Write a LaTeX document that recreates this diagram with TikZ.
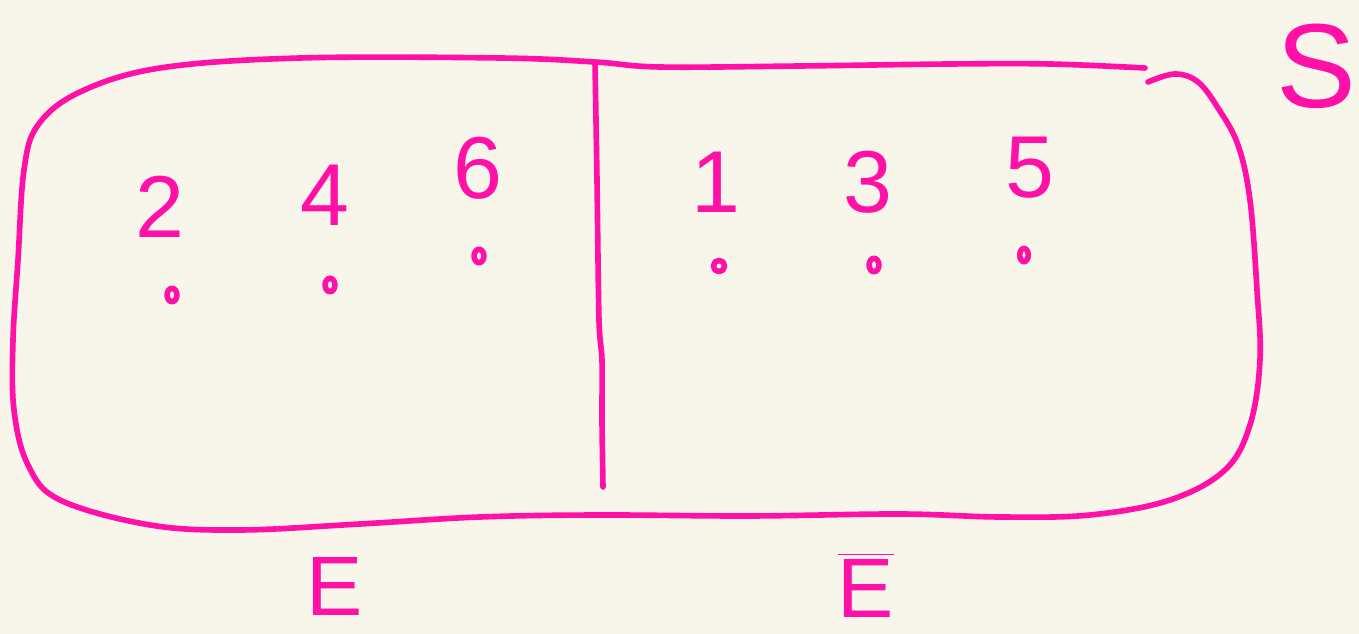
\documentclass[tikz,border=0pt]{standalone}
\usepackage{fontspec}
\setmainfont{Liberation Sans}
\usetikzlibrary{shapes.geometric}
\definecolor{paper}{HTML}{F8F6EA}
\definecolor{ink}{HTML}{FF10A6}
\tikzset{
  stroke/.style={draw=ink, line width=1.6pt, line cap=round, line join=round},
  digit/.style={text=ink, font=\fontsize{25}{28}\selectfont, inner sep=0pt},
  setname/.style={text=ink, font=\fontsize{24}{28}\selectfont, inner sep=0pt},
  dotmark/.style={stroke, ellipse, minimum width=2.8pt, minimum height=3.8pt, inner sep=0pt}
}
\begin{document}
\begin{tikzpicture}[x=0.01cm, y=-0.01cm]
    % Paper
    \fill[paper] (0,0) rectangle (1359,634);
    \useasboundingbox (0,0) rectangle (1359,634);
    % Outline of S (open at the top right)
    \draw[stroke] plot[smooth, tension=0.6] coordinates {
      (1145,68) (1050,64) (950,64) (800,66) (660,67) (595,62) (500,58)
      (300,58) (160,68) (80,92) (38,125) (24,170) (18,260) (13,340)
      (14,410) (28,465) (60,500) (150,525) (240,530) (360,524) (480,517)
      (600,515) (750,516) (900,514) (1000,517) (1090,515) (1170,500)
      (1225,470) (1250,425) (1260,360) (1257,290) (1250,200) (1238,145)
      (1218,108) (1198,82) (1175,74) (1148,82)};
    % Dividing line between E and its complement
    \draw[stroke] plot[smooth, tension=0.5] coordinates {
      (595,62) (597,180) (599,320) (602,360) (602,420) (603,487)};
    % Even outcomes
    \node[digit] (n2) at (160,207) {2};
    \node[digit] (n4) at (325,195) {4};
    \node[digit] (n6) at (478,168) {6};
    % Odd outcomes
    \node[digit] (n1) at (716,182) {1};
    \node[digit] (n3) at (868,182) {3};
    \node[digit] (n5) at (1030,168) {5};
    % Sample points
    \node[dotmark] (p2) at (172,295) {};
    \node[dotmark] (p4) at (330,285) {};
    \node[dotmark] (p6) at (479,256) {};
    \node[dotmark, minimum width=3.2pt, minimum height=3.2pt] (p1) at (719,266) {};
    \node[dotmark] (p3) at (874,265) {};
    \node[dotmark, minimum width=2.4pt] (p5) at (1024,255) {};
    % Labels
    \node[setname, font=\fontsize{34}{38}\selectfont] (lS) at (1316,66) {S};
    \node[setname] (lE) at (335,586) {E};
    \node[setname] (lEbar) at (866,585) {$\overline{\mbox{E}}$};
\end{tikzpicture}
\end{document}
